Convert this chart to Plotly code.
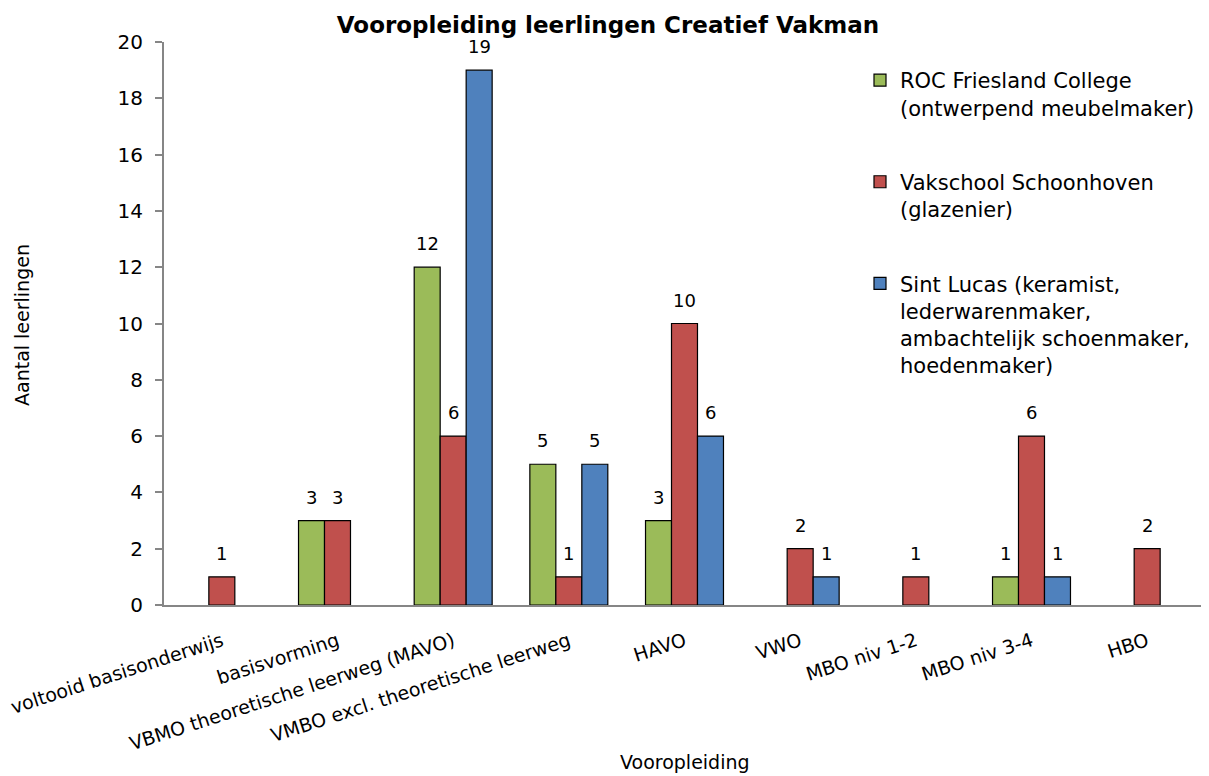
import plotly.graph_objects as go

categories = ["voltooid basisonderwijs", "basisvorming", "VBMO theoretische leerweg (MAVO)",
              "VMBO excl. theoretische leerweg", "HAVO", "VWO", "MBO niv 1-2", "MBO niv 3-4", "HBO"]
roc = [0, 3, 12, 5, 3, 0, 0, 1, 0]
vakschool = [1, 3, 6, 1, 10, 2, 1, 6, 2]
sintlucas = [0, 0, 19, 5, 6, 1, 0, 1, 0]

series_names = ["ROC Friesland College<br>(ontwerpend meubelmaker)",
                "Vakschool Schoonhoven<br>(glazenier)",
                "Sint Lucas (keramist,<br>lederwarenmaker,<br>ambachtelijk schoenmaker,<br>hoedenmaker)"]
colors = ["#9BBB59", "#C0504D", "#4F81BD"]

FONT = "DejaVu Sans"
OFF = 8  # page body margin
W, H = 1209 - OFF, 776 - OFF
# plot area in screen coords: x 164..1205, y 42..605
L = 164 - OFF
T = 42 - OFF
R = W - (1205 - OFF)
B = H - (605 - OFF)
PW = W - L - R
PH = H - T - B


def px_x(sx):
    return (sx - OFF - L) / PW


def px_y(sy):
    return (H - B - (sy - OFF)) / PH


fig = go.Figure()
all_vals = [roc, vakschool, sintlucas]
for i, (name, vals, col) in enumerate(zip(series_names, all_vals, colors)):
    fig.add_trace(go.Bar(
        x=categories,
        y=[v if v != 0 else None for v in vals],
        name=name,
        legendgroup=f"g{i}",
        marker=dict(color=col, line=dict(color="black", width=1.2)),
        cliponaxis=False,
    ))

# data labels above bars
group_frac = 1 - 0.326
bar_px = PW / len(categories) * group_frac / 3
annotations = []
for i, vals in enumerate(all_vals):
    for cat, v in zip(categories, vals):
        if v == 0:
            continue
        annotations.append(dict(
            x=cat, y=v, xref="x", yref="y", text=str(v), showarrow=False,
            xanchor="center", yanchor="bottom", xshift=(i - 1) * bar_px, yshift=11,
            font=dict(family=FONT, size=18, color="black")))

annotations += [
    dict(text="Vooropleiding", xref="paper", yref="paper",
         x=px_x(685), y=px_y(762),
         xanchor="center", yanchor="middle", showarrow=False,
         font=dict(family=FONT, size=19, color="black")),
    dict(text="Aantal leerlingen", xref="paper", yref="paper",
         x=px_x(22), y=px_y(325),
         xanchor="center", yanchor="middle", showarrow=False, textangle=-90,
         font=dict(family=FONT, size=19, color="black")),
]

fig.update_layout(
    width=W, height=H,
    barmode="group",
    bargap=0.326,
    bargroupgap=0,
    plot_bgcolor="white",
    paper_bgcolor="white",
    margin=dict(l=L, r=R, t=T, b=B, autoexpand=False),
    font=dict(family=FONT, size=19, color="black"),
    title=dict(text="<b>Vooropleiding leerlingen Creatief Vakman</b>",
               x=(608 - OFF) / W, xanchor="center", y=1 - (25 - OFF) / H, yanchor="middle",
               font=dict(family=FONT, size=23, color="black")),
    legend=dict(x=px_x(860), y=px_y(60), xanchor="left", yanchor="top",
                traceorder="grouped", tracegroupgap=44, valign="top",
                font=dict(family=FONT, size=21, color="black"),
                itemwidth=30, bgcolor="rgba(0,0,0,0)"),
    xaxis=dict(
        automargin=False,
        showline=True, linecolor="#868686", linewidth=2,
        tickangle=-18, ticks="", showgrid=False,
        ticklabelstandoff=16,
        tickfont=dict(family=FONT, size=19),
    ),
    yaxis=dict(
        automargin=False,
        range=[0, 20], dtick=2,
        showline=True, linecolor="#868686", linewidth=2,
        ticks="outside", ticklen=7, tickcolor="#868686", tickwidth=2,
        ticklabelstandoff=8,
        showgrid=False, zeroline=False,
        tickfont=dict(family=FONT, size=20),
    ),
    annotations=annotations,
)

fig.write_html("out.html")
